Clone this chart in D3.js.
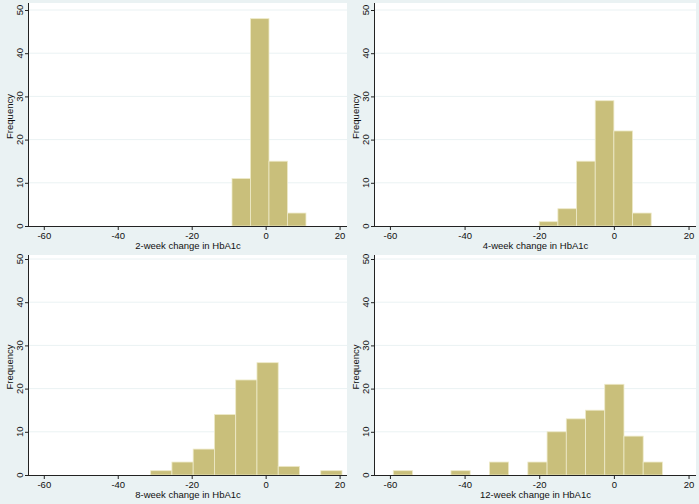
<!DOCTYPE html>
<html><head><meta charset="utf-8">
<script src="https://cdn.jsdelivr.net/npm/d3@7"></script>
<style>body{margin:0;background:#EAF2F3}svg{display:block}</style>
</head><body>
<svg id="c" width="699" height="504"></svg>
<script>
// Data
const titles = ["2-week change in HbA1c","4-week change in HbA1c","8-week change in HbA1c","12-week change in HbA1c"];
const binStart = [-9.1, -20, -31.1, -59.1];
const binWidth = [5.0, 5.0, 5.75, 5.15];
const counts2w = [11, 48, 15, 3];
const counts4w = [1, 4, 15, 29, 22, 3];
const counts8w = [1, 3, 6, 14, 22, 26, 2, 0, 1];
const counts12w = [1, 0, 0, 1, 0, 3, 0, 3, 10, 13, 15, 21, 9, 3];
const xTicks = [-60, -40, -20, 0, 20];
const yTicks = [0, 10, 20, 30, 40, 50];
const allCounts = [counts2w, counts4w, counts8w, counts12w];

const svg = d3.select("#c");
svg.append("rect").attr("width",699).attr("height",504).attr("fill","#EAF2F3");

const panels = [
  {l:29, r:347, t:3, b:226, y50:10},
  {l:375, r:696, t:3, b:226, y50:10},
  {l:29, r:347, t:255, b:475, y50:259},
  {l:375, r:696, t:255, b:475, y50:259}
];
const font = "'Liberation Sans', Arial, sans-serif";

panels.forEach((p, i) => {
  const x = d3.scaleLinear().domain([-64, 22]).range([p.l, p.r]);
  const y = d3.scaleLinear().domain([0, 50]).range([p.b, p.y50]);
  const g = svg.append("g");
  g.append("rect").attr("x",p.l).attr("y",p.t).attr("width",p.r-p.l).attr("height",p.b-p.t).attr("fill","#fff");
  // gridlines
  g.selectAll(".grid").data(yTicks.slice(1)).join("line")
    .attr("x1",p.l).attr("x2",p.r).attr("y1",d=>y(d)).attr("y2",d=>y(d))
    .attr("stroke","#EAF2F3").attr("stroke-width",1);
  // bars
  const bins = allCounts[i].map((c, k) => ({x0: binStart[i] + k*binWidth[i], x1: binStart[i] + (k+1)*binWidth[i], c}));
  g.selectAll(".bar").data(bins.filter(d=>d.c>0)).join("rect")
    .attr("x", d=>x(d.x0)).attr("width", d=>x(d.x1)-x(d.x0))
    .attr("y", d=>y(d.c)).attr("height", d=>y(0)-y(d.c))
    .attr("fill","#C9BF7B").attr("stroke","#EEEAC9").attr("stroke-width",0.8);
  // x axis
  const ax = d3.axisBottom(x).tickValues(xTicks).tickSize(4).tickPadding(2).tickFormat(d3.format("d"));
  const xa = g.append("g").attr("transform",`translate(0,${p.b})`).call(ax);
  xa.select(".domain").attr("d",`M${p.l},0.5H${p.r}`).attr("stroke","#222");
  xa.selectAll(".tick line").attr("stroke","#222");
  xa.selectAll("text").attr("font-family",font).attr("font-size",9.5).attr("fill","#111")
    .text(d => d < 0 ? "-" + Math.abs(d) : d);
  // y axis
  const ay = d3.axisLeft(y).tickValues(yTicks).tickSize(4).tickPadding(2);
  const ya = g.append("g").attr("transform",`translate(${p.l},0)`).call(ay);
  ya.select(".domain").attr("d",`M-0.5,${p.b}V${p.t}`).attr("stroke","#222");
  ya.selectAll(".tick").attr("transform", null);
  ya.selectAll(".tick line").attr("stroke","#222").attr("y1", d=>y(d)+0.5).attr("y2", d=>y(d)+0.5);
  ya.selectAll("text").attr("font-family",font).attr("font-size",9.5).attr("fill","#111")
    .attr("text-anchor","middle").attr("dy",null)
    .attr("transform","rotate(-90)")
    .attr("x", d => -y(d)).attr("y", -6);
  // titles
  g.append("text").attr("x",(p.l+p.r)/2).attr("y",p.b+23).attr("text-anchor","middle")
    .attr("font-family",font).attr("font-size",9.5).attr("fill","#111").text(titles[i]);
  g.append("text").attr("transform",`translate(${p.l-16},${(p.t+p.b)/2+2}) rotate(-90)`).attr("text-anchor","middle")
    .attr("font-family",font).attr("font-size",9.5).attr("fill","#111").text("Frequency");
});
</script>
</body></html>
